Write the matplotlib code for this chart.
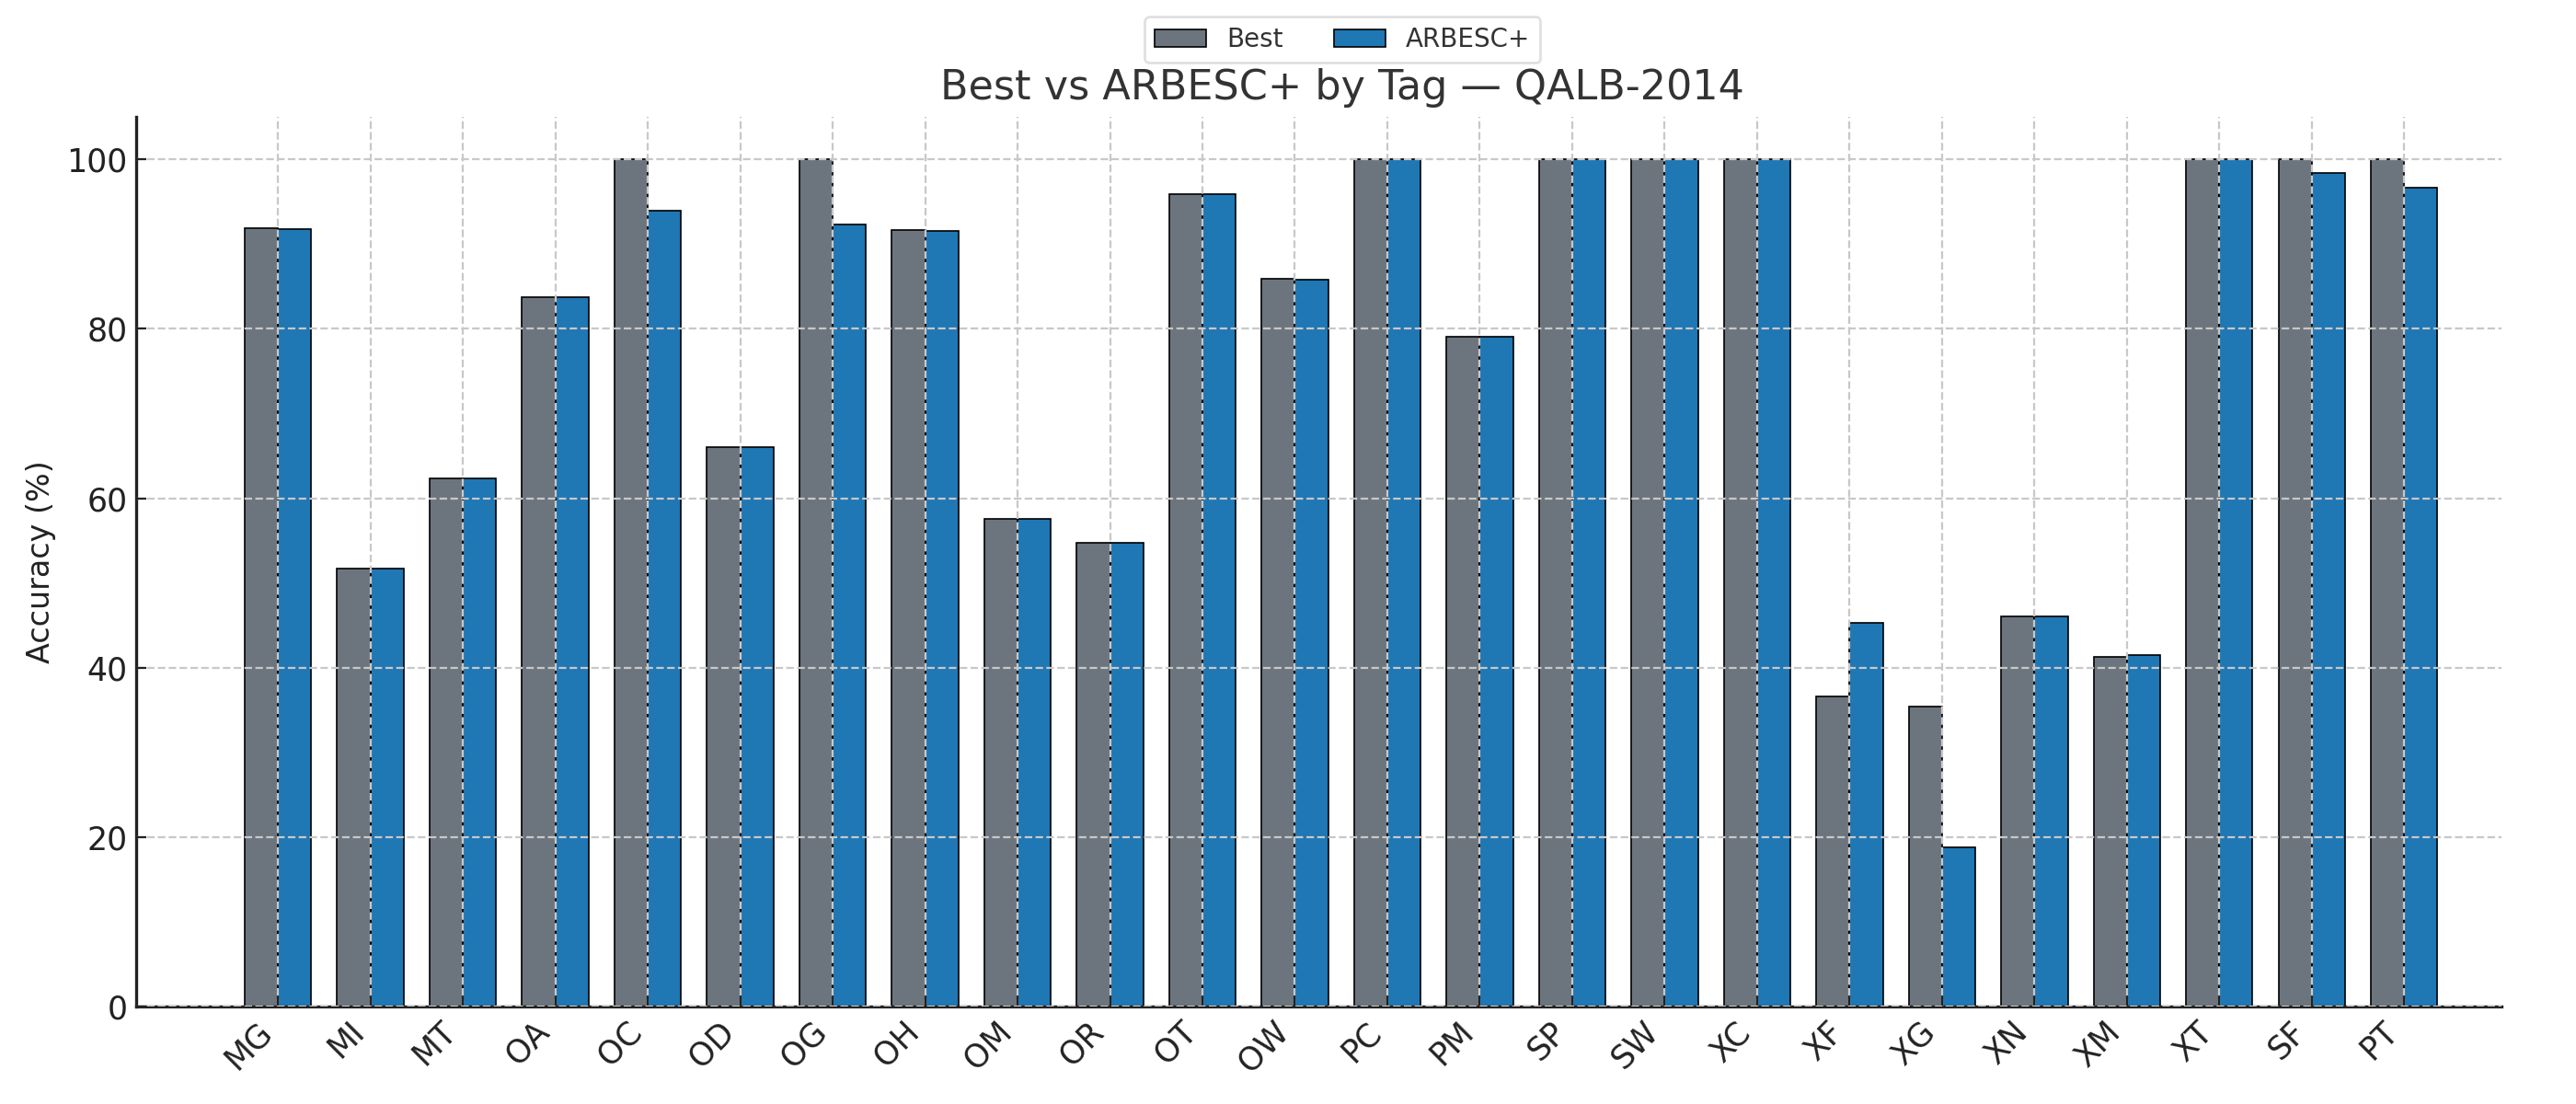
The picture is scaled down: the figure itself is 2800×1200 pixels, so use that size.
import matplotlib
matplotlib.use("Agg")
import matplotlib.pyplot as plt
import numpy as np

tags = ["MG", "MI", "MT", "OA", "OC", "OD", "OG", "OH", "OM", "OR", "OT", "OW",
        "PC", "PM", "SP", "SW", "XC", "XF", "XG", "XN", "XM", "XT", "SF", "PT"]
best = [91.9, 51.7, 62.4, 83.7, 100.0, 66.1, 100.0, 91.7, 57.6, 54.8, 95.9, 85.9,
        100.0, 79.1, 100.0, 100.0, 100.0, 36.6, 35.4, 46.1, 41.3, 100.0, 100.0, 100.0]
arbesc = [91.8, 51.7, 62.4, 83.7, 94.0, 66.1, 92.3, 91.6, 57.6, 54.8, 95.9, 85.8,
          100.0, 79.1, 100.0, 100.0, 100.0, 45.3, 18.8, 46.1, 41.5, 100.0, 98.4, 96.7]

fig = plt.figure(figsize=(14, 6), dpi=200)
ax = fig.add_axes([0.053, 0.088, 0.918, 0.806])

x = np.arange(len(tags))
w = 0.36
ax.bar(x - w / 2, best, w, color="#6c757d", edgecolor="black", linewidth=0.6, label="Best")
ax.bar(x + w / 2, arbesc, w, color="#1f77b4", edgecolor="black", linewidth=0.6, label="ARBESC+")

ax.set_xlim(-1.53, 24.05)
ax.set_ylim(0, 105)
ax.set_yticks([0, 20, 40, 60, 80, 100])
ax.set_xticks(x)
ax.set_xticklabels(tags, rotation=45, ha="right", fontsize=12.5, color="#222222")
ax.tick_params(axis="y", labelsize=12.5, labelcolor="#222222")
ax.tick_params(direction="in", length=4, color="#222222")
ax.set_axisbelow(False)
ax.grid(True, linestyle="--", color="#c8c8c8", linewidth=0.8)
for s in ["top", "right"]:
    ax.spines[s].set_visible(False)
for s in ["left", "bottom"]:
    ax.spines[s].set_color("#222222")
    ax.spines[s].set_linewidth(1.2)

ax.set_ylabel("Accuracy (%)", fontsize=12, color="#222222")
t = ax.set_title("Best vs ARBESC+ by Tag — QALB-2014", fontsize=16, color="#333333", pad=7)
t.set_x(0.51)
leg = ax.legend(loc="upper center", bbox_to_anchor=(0.51, 1.127), ncol=2, fontsize=10,
                frameon=True, edgecolor="#d9d9d9", columnspacing=2.0)
for txt in leg.get_texts():
    txt.set_color("#333333")

fig.savefig("out.png", dpi=200)
